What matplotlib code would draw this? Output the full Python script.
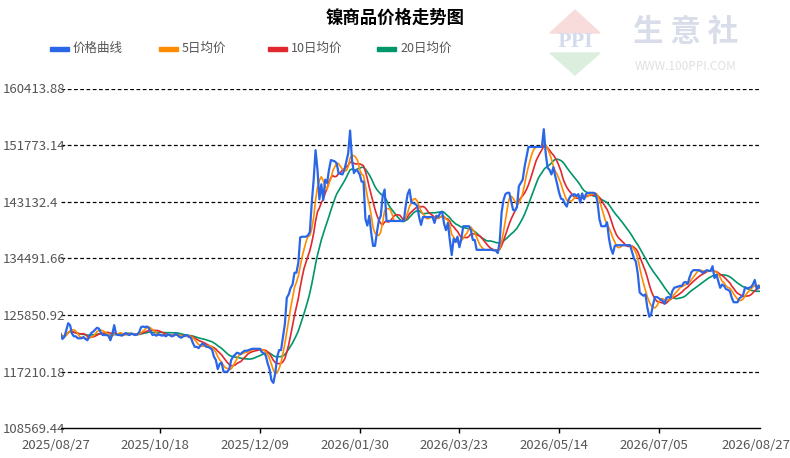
import numpy as np
import pandas as pd
import matplotlib
matplotlib.use('Agg')
import matplotlib.pyplot as plt
import matplotlib.transforms as mtrans
from matplotlib.patches import Polygon, Rectangle

plt.rcParams['font.family'] = ['Noto Sans CJK SC', 'DejaVu Sans']

# daily nickel price, thousands of yuan/ton, 2025-08-27 .. 2026-08-27
price_k = [
    123.0, 122.2, 122.5, 123.5, 124.6, 124.3, 123.0, 122.6, 122.6, 122.3,
    122.3, 122.3, 122.5, 122.2, 122.0, 122.6, 123.1, 123.3, 123.6, 123.9,
    123.8, 123.2, 122.8, 122.8, 122.8, 122.7, 122.0, 122.9, 124.3, 122.9,
    122.8, 122.8, 122.7, 122.9, 123.1, 122.9, 122.8, 123.0, 122.9, 122.8,
    122.9, 123.2, 124.0, 124.1, 124.0, 124.1, 123.9, 123.3, 122.8, 122.9,
    122.7, 122.9, 122.8, 122.7, 122.8, 122.6, 122.9, 122.8, 122.6, 122.7,
    123.0, 122.8, 122.5, 122.4, 122.6, 122.7, 122.8, 122.5, 122.4, 121.6,
    121.0, 121.0, 120.8, 121.2, 121.5, 121.3, 121.0, 121.0, 120.8, 120.6,
    119.5, 119.0, 117.6, 118.4, 118.6, 117.2, 117.2, 117.2, 117.6, 119.0,
    119.5, 119.8, 120.1, 120.0, 119.9, 120.2, 120.4, 120.4, 120.5, 120.6,
    120.7, 120.7, 120.7, 120.7, 120.7, 120.2, 120.0, 119.7, 118.5, 117.6,
    115.9, 115.5, 117.0, 119.5, 120.5, 120.5, 122.5, 124.5, 128.5, 129.0,
    130.0, 130.5, 132.3, 132.3, 133.8, 137.7, 137.8, 137.8, 137.8, 138.0,
    138.5, 142.9, 146.5, 151.0, 148.0, 143.5, 145.8, 143.4, 146.5, 146.0,
    148.0, 149.5, 149.4, 149.3, 149.0, 147.5, 147.4, 147.3, 148.0, 149.2,
    150.5, 154.0, 149.5, 147.5, 148.0, 147.8, 147.3, 146.2, 146.2, 140.5,
    139.5, 141.0, 138.4, 136.4, 136.4, 138.5, 140.3, 141.0, 144.0, 145.0,
    140.2, 140.2, 140.2, 140.2, 140.2, 140.2, 140.2, 140.2, 140.2, 140.2,
    142.5, 144.3, 145.0, 143.0, 142.9, 142.8, 142.5, 140.8, 139.6, 140.8,
    140.8, 140.8, 140.8, 140.8, 140.8, 139.9, 141.0, 140.8, 141.5, 141.6,
    139.8, 138.8, 139.9, 137.3, 135.0, 137.5, 137.0, 137.8, 136.2, 137.5,
    139.4, 139.4, 139.4, 139.4, 138.8, 137.3, 137.3, 135.8, 135.8, 135.8,
    135.8, 135.8, 135.8, 135.8, 135.8, 135.8, 135.7, 135.7, 135.3, 137.0,
    141.5, 143.4, 144.3, 144.5, 144.5, 143.2, 141.9, 141.8, 142.3, 145.5,
    146.0, 146.5, 148.5, 150.0, 151.5, 151.5, 151.5, 151.5, 151.5, 151.5,
    151.5, 151.5, 154.2, 150.5, 148.3, 148.0, 147.3, 148.4, 147.0, 145.8,
    144.5, 143.6, 143.5, 142.8, 142.4, 143.5, 144.0, 144.2, 144.3, 144.0,
    144.3, 143.0, 144.4, 143.5, 144.3, 144.5, 144.5, 144.5, 144.5, 144.3,
    143.1, 140.5, 139.4, 139.4, 139.4, 140.0, 137.5, 136.0, 135.2, 136.4,
    136.5, 136.5, 136.5, 136.5, 136.5, 136.5, 136.5, 136.5, 135.5, 134.5,
    134.0, 132.2, 129.3, 129.0, 128.8, 129.0, 127.0, 125.6, 126.0, 127.5,
    128.6, 128.6, 128.4, 128.2, 128.0, 127.6, 128.5, 128.6, 128.4, 129.5,
    130.0, 130.1, 130.2, 130.3, 130.3, 130.8, 130.9, 130.6, 131.6, 132.4,
    132.7, 132.7, 132.7, 132.7, 132.5, 132.3, 132.5, 132.7, 132.6, 132.6,
    133.3, 131.5, 132.0, 131.0, 130.0, 130.5, 130.3, 129.8, 129.7, 129.5,
    128.5, 127.8, 127.8, 127.8, 128.4, 128.6, 129.0, 130.1, 129.9, 130.0,
    130.1, 130.5, 131.2, 129.8, 130.3, 130.0,
]
start_date = '2025-08-27'
ma_windows = [5, 10, 20]
series_names = ['价格曲线', '5日均价', '10日均价', '20日均价']
colors = ['#2a66e8', '#ff8c00', '#e0282e', '#00956a']
y_min, y_max = 108569.44, 160413.88
label_every = 52

dates = pd.date_range(start_date, periods=len(price_k), freq='D')
price = pd.Series(price_k) * 1000
idx = np.arange(len(price))
last = len(price) - 1

fig = plt.figure(figsize=(7.9, 4.58), dpi=100)
ax = fig.add_axes([60.5 / 790, 29.7 / 458, 700 / 790, 339.8 / 458])

# moving averages first, price on top
for w, c in zip(ma_windows[::-1], colors[:0:-1]):
    ma = price.rolling(w, min_periods=1).mean()
    ax.plot(idx, ma, color=c, lw=1.2, zorder=3)
ax.plot(idx, price, color=colors[0], lw=1.6, zorder=4)

ax.set_xlim(0, last)
ax.set_ylim(y_min, y_max)

yticks = np.linspace(y_min, y_max, 7)
ax.set_yticks(yticks)
ax.set_yticklabels([('%.2f' % v).rstrip('0').rstrip('.') for v in yticks])
for v in yticks[1:]:
    ax.axhline(v, color='black', lw=0.9, ls=(0, (3, 2)), zorder=1)
ax.tick_params(axis='y', length=0, pad=41.4, labelsize=9.5, labelcolor='#555555')
for lab in ax.get_yticklabels():
    lab.set_horizontalalignment('left')

xticks = list(range(0, last - label_every // 2, label_every)) + [last]
ax.set_xticks(xticks)
ax.set_xticklabels([dates[i].strftime('%Y/%m/%d') for i in xticks])
ax.tick_params(axis='x', length=3.6, width=1, pad=4.3, labelsize=9.5,
               labelcolor='#555555', color='black')
shift = mtrans.ScaledTranslation(-5 / 100, 0, fig.dpi_scale_trans)
for lab in ax.get_xticklabels():
    lab.set_transform(lab.get_transform() + shift)
ax.xaxis.get_major_ticks()[0].tick1line.set_visible(False)
ax.xaxis.get_major_ticks()[-1].tick1line.set_visible(False)

for s in ['top', 'right', 'left']:
    ax.spines[s].set_visible(False)
ax.spines['bottom'].set_color('black')
ax.spines['bottom'].set_linewidth(1)

# title
fig.text(395 / 790, 1 - 18 / 458, '镍商品价格走势图', ha='center', va='center',
         fontsize=12.5, fontweight='bold', color='black')

# legend
for i, (name, c) in enumerate(zip(series_names, colors)):
    x0 = 50 + i * 109
    fig.patches.append(Rectangle((x0 / 790, 1 - 50.7 / 458), 19 / 790, 4 / 458,
                                 transform=fig.transFigure, color=c))
    fig.text((x0 + 23) / 790, 1 - 48.5 / 458, name, ha='left', va='center',
             fontsize=9, color='#555555')

# watermark
fig.patches.append(Polygon([(550 / 790, 1 - 33 / 458), (600 / 790, 1 - 33 / 458),
                            (575 / 790, 1 - 10 / 458)], closed=True,
                           transform=fig.transFigure, color='#f8dcdc', zorder=0))
fig.patches.append(Polygon([(550 / 790, 1 - 53 / 458), (600 / 790, 1 - 53 / 458),
                            (575 / 790, 1 - 75 / 458)], closed=True,
                           transform=fig.transFigure, color='#dcefdf', zorder=0))
fig.text(575 / 790, 1 - 42 / 458, 'PPI', ha='center', va='center', fontsize=13,
         fontweight='bold', color='#d3dbec', family='DejaVu Serif')
fig.text(686 / 790, 1 - 32 / 458, '生 意 社', ha='center', va='center', fontsize=22,
         fontweight='bold', color='#d8dde9')
fig.text(686 / 790, 1 - 66 / 458, 'WWW.100PPI.COM', ha='center', va='center',
         fontsize=8.5, color='#e0e0e0')

fig.savefig('out.png', dpi=100)
